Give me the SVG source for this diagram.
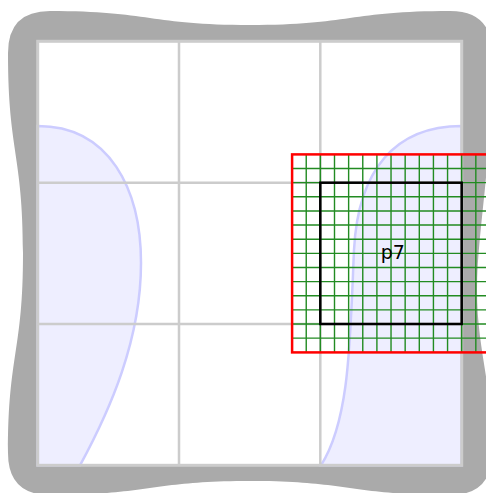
<svg xmlns="http://www.w3.org/2000/svg" width="486" height="493" viewBox="0 0 486 493">
  <style>
    .frame { fill: #aaaaaa; stroke: none; }
    .inner { fill: #ffffff; }
    .border { fill: none; stroke: #cccccc; stroke-width: 3; }
    .gridline { stroke: #cccccc; stroke-width: 2.5; fill: none; }
    .blob { fill: #eeeeff; stroke: #ccccff; stroke-width: 2.5; }
    .fine { stroke: #228b22; stroke-width: 1.4; fill: none; }
    .red { fill: none; stroke: #ff0000; stroke-width: 2.5; }
    .cell { fill: none; stroke: #000000; stroke-width: 2.5; }
    .label { font-family: "DejaVu Sans", sans-serif; font-size: 19px; fill: #000000; text-anchor: middle; }
  </style>

  <g id="frame">
    <path class="frame" d="M 50,11 C 150,11 150,25 250,25 C 350,25 350,11 450,11 Q 492,11 492,53 C 492,170 477,230 477,290 C 477,350 492,380 492,453 Q 492,495 450,495 C 350,495 350,481 250,481 C 150,481 150,495 50,495 Q 8,495 8,453 C 8,353 23,353 23,253 C 23,153 8,153 8,53 Q 8,11 50,11 Z"/>
    <rect class="inner" x="37.7" y="41.3" width="424" height="424"/>
  </g>

  <g id="regions">
    <path class="blob" d="M 37.7,126 C 110,126 141,190 141,263 C 141,340 110,410 80,465.3 L 37.7,465.3 Z"/>
    <path class="blob" d="M 461.7,126 C 395,126 358,170 354,250 C 350,340 350,420 321,465.3 L 461.7,465.3 Z"/>
  </g>

  <g id="grid">
    <rect class="border" x="37.7" y="41.3" width="424" height="424"/>
    <line class="gridline" x1="179" y1="41.3" x2="179" y2="465.3"/>
    <line class="gridline" x1="320.3" y1="41.3" x2="320.3" y2="465.3"/>
    <line class="gridline" x1="37.7" y1="182.7" x2="461.7" y2="182.7"/>
    <line class="gridline" x1="37.7" y1="324" x2="461.7" y2="324"/>
  </g>

  <g id="subgrid">
    <path class="fine" d="M 306.23,154.4 V 352.3 M 320.37,154.4 V 352.3 M 334.5,154.4 V 352.3 M 348.63,154.4 V 352.3 M 362.77,154.4 V 352.3 M 376.9,154.4 V 352.3 M 391.03,154.4 V 352.3 M 405.16,154.4 V 352.3 M 419.3,154.4 V 352.3 M 433.43,154.4 V 352.3 M 447.56,154.4 V 352.3 M 461.7,154.4 V 352.3 M 475.83,154.4 V 352.3 M 292.1,168.53 H 490 M 292.1,182.67 H 490 M 292.1,196.8 H 490 M 292.1,210.93 H 490 M 292.1,225.07 H 490 M 292.1,239.2 H 490 M 292.1,253.33 H 490 M 292.1,267.46 H 490 M 292.1,281.6 H 490 M 292.1,295.73 H 490 M 292.1,309.86 H 490 M 292.1,324 H 490 M 292.1,338.13 H 490"/>
    <rect class="red" x="292.1" y="154.4" width="198" height="198"/>
  </g>

  <g id="p7">
    <rect class="cell" x="320.3" y="182.7" width="141.4" height="141.3"/>
    <text class="label" x="392.8" y="258.5">p7</text>
  </g>

  <g id="connectors"/>
</svg>
